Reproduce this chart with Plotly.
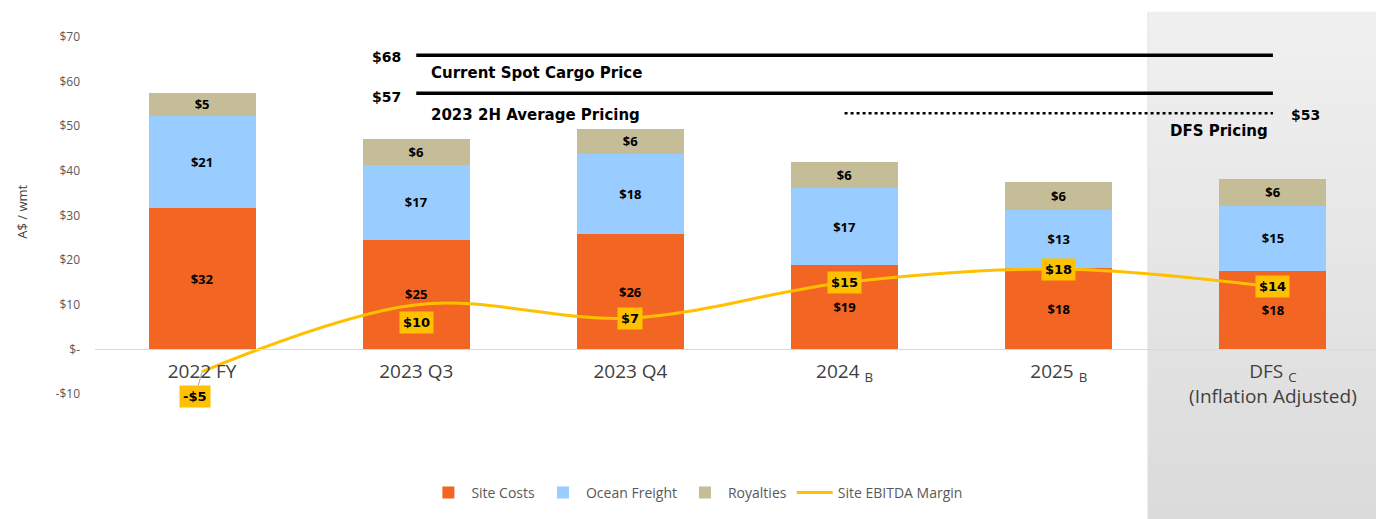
import plotly.graph_objects as go

# ---------------- data ----------------
categories = ["2022 FY", "2023 Q3", "2023 Q4", "2024 <sub>B</sub>", "2025 <sub>B</sub>",
              "DFS <sub>C</sub><br>(Inflation Adjusted)"]
site_costs = [31.6, 24.6, 25.8, 18.9, 18.2, 17.6]
ocean_freight = [20.8, 16.7, 18.0, 17.2, 13.0, 14.6]
royalties = [5.0, 5.9, 5.6, 5.9, 6.4, 6.0]
ebitda_margin = [-5, 10, 7, 15, 18, 14]

ytick_vals = [-10, 0, 10, 20, 30, 40, 50, 60, 70]
ytick_text = ["-$10", "$-", "$10", "$20", "$30", "$40", "$50", "$60", "$70"]

spot_price_level = 65.9      # line position as drawn
spot_price_label = "$68"
avg_price_level = 57.4
avg_price_label = "$57"
dfs_price_level = 52.9
dfs_price_label = "$53"

# ---------------- style ----------------
FONT = "Open Sans"
BFONT = "DejaVu Sans"
C_SITE = "#F26522"
C_FREIGHT = "#99CCFF"
C_ROY = "#C4BD97"
C_EBITDA = "#FFC000"

fig = go.Figure()

bar_common = dict(texttemplate="$%{y:.0f}", textposition="inside",
                  insidetextanchor="middle", textangle=0,
                  textfont=dict(family=FONT, size=13, color="black", weight="bold"),
                  hoverinfo="skip", marker_line_width=0)
fig.add_trace(go.Bar(x=categories, y=site_costs, name="Site Costs",
                     marker_color=C_SITE, **bar_common))
fig.add_trace(go.Bar(x=categories, y=ocean_freight, name="Ocean Freight",
                     marker_color=C_FREIGHT, **bar_common))
fig.add_trace(go.Bar(x=categories, y=royalties, name="Royalties",
                     marker_color=C_ROY, **bar_common))
fig.add_trace(go.Scatter(x=categories, y=ebitda_margin, name="Site EBITDA Margin",
                         mode="lines", line=dict(color=C_EBITDA, width=3, shape="spline",
                                                 smoothing=1.0),
                         hoverinfo="skip"))

shapes = []
# gray gradient panel behind the DFS column
n_slices = 30
top_p, bot_p = 1.0706, -0.3497
x0p, x1p = 0.8194, 1.02
for i in range(n_slices):
    t = i / (n_slices - 1)
    c = int(round(240 - (240 - 219) * t))
    y_hi = top_p - (top_p - bot_p) * i / n_slices
    y_lo = top_p - (top_p - bot_p) * (i + 1) / n_slices - 0.002
    shapes.append(dict(type="rect", xref="paper", yref="paper", x0=x0p, x1=x1p,
                       y0=y_lo, y1=y_hi, fillcolor=f"rgb({c},{c},{c})",
                       line=dict(width=0), layer="below"))
shapes.append(dict(type="line", xref="paper", yref="paper", x0=x0p, x1=x0p,
                   y0=bot_p, y1=top_p, line=dict(color="#e2e2e2", width=1), layer="below"))

# price lines
shapes.append(dict(type="line", xref="x", yref="y", x0=1, x1=5,
                   y0=spot_price_level, y1=spot_price_level,
                   line=dict(color="black", width=3.5)))
shapes.append(dict(type="line", xref="x", yref="y", x0=1, x1=5,
                   y0=avg_price_level, y1=avg_price_level,
                   line=dict(color="black", width=3.5)))
shapes.append(dict(type="line", xref="x", yref="y", x0=3, x1=5,
                   y0=dfs_price_level, y1=dfs_price_level,
                   line=dict(color="black", width=2.5, dash="dot")))

annotations = []
bold = dict(family=BFONT, size=15, color="black", weight="bold")
small_bold = dict(family=BFONT, size=14, color="black", weight="bold")
annotations.append(dict(xref="x", yref="y", x=0.94, y=65.6, text=spot_price_label,
                        showarrow=False, xanchor="right", yanchor="middle", font=small_bold))
annotations.append(dict(xref="x", yref="y", x=1.06, y=61.9, text="Current Spot Cargo Price",
                        showarrow=False, xanchor="left", yanchor="middle", font=bold))
annotations.append(dict(xref="x", yref="y", x=0.94, y=56.6, text=avg_price_label,
                        showarrow=False, xanchor="right", yanchor="middle", font=small_bold))
annotations.append(dict(xref="x", yref="y", x=1.06, y=52.5, text="2023 2H Average Pricing",
                        showarrow=False, xanchor="left", yanchor="middle", font=bold))
annotations.append(dict(xref="x", yref="y", x=5.075, y=52.5, text=dfs_price_label,
                        showarrow=False, xanchor="left", yanchor="middle", font=small_bold))
annotations.append(dict(xref="x", yref="y", x=4.51, y=49.0, text="DFS Pricing",
                        showarrow=False, xanchor="left", yanchor="middle", font=bold))

# EBITDA margin data labels
def money(v):
    return f"-${abs(v)}" if v < 0 else f"${v}"

lab_font = dict(family=BFONT, size=13, color="black", weight="bold")
for i, v in enumerate(ebitda_margin):
    a = dict(xref="x", yref="y", x=i, y=v, text=money(v), bgcolor=C_EBITDA,
             borderpad=3, font=lab_font, xanchor="center", yanchor="middle")
    if v < 0:
        a.update(showarrow=True, ax=-7, ay=25, arrowhead=0, arrowwidth=1,
                 arrowcolor="#a6a6a6", standoff=0)
    elif i == 1:
        a.update(showarrow=False, yshift=-18)
    else:
        a.update(showarrow=False)
    annotations.append(a)

# y-axis title
annotations.append(dict(xref="paper", yref="paper", x=-0.0575, y=0.511, text="A$ / wmt",
                        textangle=-90, showarrow=False, xanchor="center", yanchor="middle",
                        font=dict(family=FONT, size=13, color="#404040")))

# the page body adds an 8px offset; sizes/margins compensate for it
fig.update_layout(
    width=1376, height=511,
    margin=dict(l=87, r=4, t=29, b=125),
    barmode="stack", bargap=0.5,
    paper_bgcolor="white", plot_bgcolor="rgba(0,0,0,0)",
    font=dict(family=FONT, color="#595959"),
    shapes=shapes, annotations=annotations,
    uniformtext=dict(minsize=13, mode="show"),
    showlegend=True,
    legend=dict(orientation="h", x=0.468, xanchor="center", y=-0.277, yanchor="middle",
                font=dict(family=FONT, size=14, color="#595959"), traceorder="normal",
                bgcolor="rgba(0,0,0,0)", itemwidth=36),
    xaxis=dict(type="category", anchor="free", position=0.125, showline=True,
               linecolor="#d9d9d9", linewidth=1, showgrid=False, ticks="",
               tickfont=dict(family=FONT, size=19, color="#404040"),
               ticklabelstandoff=5, fixedrange=True),
    yaxis=dict(range=[-10, 70], tickvals=ytick_vals, ticktext=ytick_text,
               showgrid=False, zeroline=False, showline=False, ticks="",
               tickfont=dict(family=FONT, size=12, color="#595959"),
               ticklabelstandoff=14, fixedrange=True),
)

fig.write_html("out.html")
